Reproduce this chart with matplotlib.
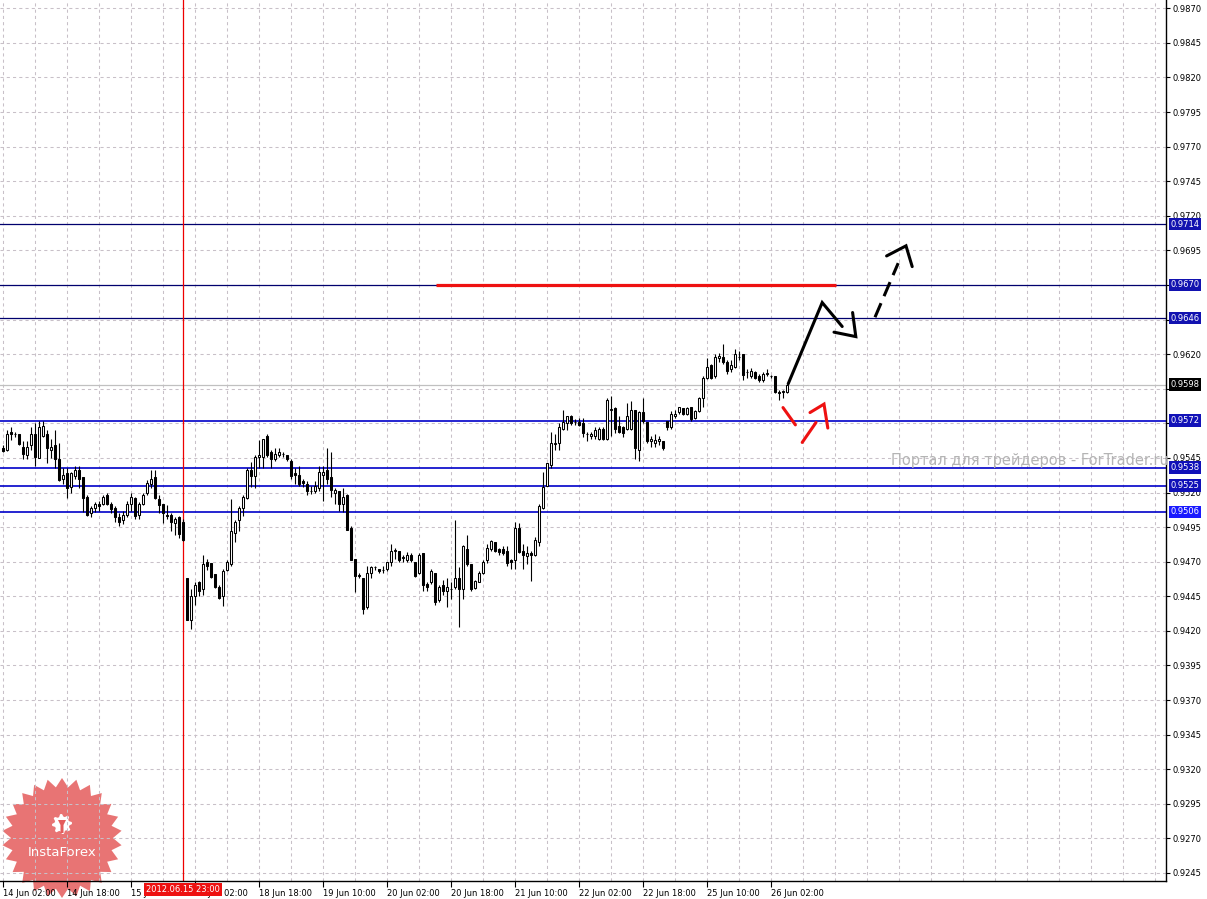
import numpy as np
import matplotlib
matplotlib.use("Agg")
import matplotlib.pyplot as plt
from matplotlib.patches import Polygon

# hourly bars, 14 Jun 02:00 ... 26 Jun 06:00
opens = [0.9552, 0.9551, 0.9564, 0.9562, 0.9562, 0.9553, 0.9547, 0.9554, 0.9562, 0.9545,
         0.9561, 0.9562, 0.9551, 0.9554, 0.9544, 0.9530, 0.9534, 0.9524, 0.9532, 0.9536,
         0.9531, 0.9517, 0.9505, 0.9509, 0.9512, 0.9512, 0.9518, 0.9512, 0.9509, 0.9502,
         0.9500, 0.9504, 0.9512, 0.9516, 0.9504, 0.9512, 0.9520, 0.9526, 0.9531, 0.9515,
         0.9512, 0.9504, 0.9504, 0.9498, 0.9502, 0.9499, 0.9458, 0.9428, 0.9445, 0.9455,
         0.9450, 0.9470, 0.9469, 0.9461, 0.9452, 0.9445, 0.9464, 0.9468, 0.9491, 0.9500,
         0.9509, 0.9516, 0.9536, 0.9532, 0.9546, 0.9546, 0.9561, 0.9549, 0.9544, 0.9547,
         0.9548, 0.9547, 0.9543, 0.9534, 0.9533, 0.9528, 0.9526, 0.9521, 0.9521, 0.9523,
         0.9533, 0.9536, 0.9531, 0.9520, 0.9521, 0.9512, 0.9518, 0.9494, 0.9472, 0.9460,
         0.9458, 0.9437, 0.9462, 0.9466, 0.9465, 0.9464, 0.9465, 0.9470, 0.9478, 0.9478,
         0.9473, 0.9471, 0.9475, 0.9470, 0.9462, 0.9476, 0.9454, 0.9455, 0.9462, 0.9442,
         0.9453, 0.9449, 0.9450, 0.9452, 0.9458, 0.9450, 0.9479, 0.9468, 0.9451, 0.9455,
         0.9462, 0.9471, 0.9479, 0.9484, 0.9479, 0.9479, 0.9478, 0.9471, 0.9471, 0.9494,
         0.9478, 0.9474, 0.9476, 0.9475, 0.9484, 0.9509, 0.9525, 0.9540, 0.9555, 0.9556,
         0.9566, 0.9570, 0.9575, 0.9571, 0.9571, 0.9570, 0.9562, 0.9561, 0.9561, 0.9559,
         0.9566, 0.9559, 0.9580, 0.9581, 0.9568, 0.9567, 0.9566, 0.9566, 0.9580, 0.9551,
         0.9578, 0.9571, 0.9557, 0.9556, 0.9557, 0.9557, 0.9572, 0.9567, 0.9575, 0.9578,
         0.9581, 0.9577, 0.9582, 0.9574, 0.9579, 0.9588, 0.9603, 0.9612, 0.9604, 0.9617,
         0.9618, 0.9614, 0.9609, 0.9611, 0.9618, 0.9620, 0.9607, 0.9604, 0.9607, 0.9604,
         0.9601, 0.9606, 0.9604, 0.9604, 0.9593, 0.9593, 0.9593]
highs = [0.9554, 0.9565, 0.9567, 0.9564, 0.9562, 0.9557, 0.9557, 0.9567, 0.9570, 0.9572,
         0.9572, 0.9565, 0.9559, 0.9565, 0.9556, 0.9538, 0.9538, 0.9535, 0.9539, 0.9539,
         0.9531, 0.9518, 0.9510, 0.9513, 0.9514, 0.9518, 0.9520, 0.9513, 0.9510, 0.9505,
         0.9507, 0.9514, 0.9520, 0.9517, 0.9513, 0.9520, 0.9529, 0.9536, 0.9536, 0.9518,
         0.9512, 0.9511, 0.9505, 0.9502, 0.9503, 0.9501, 0.9458, 0.9450, 0.9455, 0.9456,
         0.9475, 0.9472, 0.9469, 0.9461, 0.9453, 0.9465, 0.9471, 0.9515, 0.9500, 0.9510,
         0.9518, 0.9538, 0.9542, 0.9547, 0.9558, 0.9559, 0.9562, 0.9551, 0.9552, 0.9552,
         0.9549, 0.9547, 0.9544, 0.9538, 0.9539, 0.9530, 0.9528, 0.9525, 0.9528, 0.9539,
         0.9539, 0.9552, 0.9549, 0.9523, 0.9521, 0.9523, 0.9519, 0.9496, 0.9472, 0.9462,
         0.9458, 0.9467, 0.9467, 0.9467, 0.9465, 0.9467, 0.9470, 0.9483, 0.9480, 0.9478,
         0.9475, 0.9477, 0.9476, 0.9470, 0.9476, 0.9476, 0.9455, 0.9465, 0.9462, 0.9453,
         0.9457, 0.9458, 0.9455, 0.9500, 0.9466, 0.9482, 0.9489, 0.9468, 0.9457, 0.9463,
         0.9471, 0.9483, 0.9486, 0.9484, 0.9480, 0.9481, 0.9481, 0.9472, 0.9499, 0.9498,
         0.9483, 0.9481, 0.9478, 0.9488, 0.9512, 0.9535, 0.9541, 0.9564, 0.9562, 0.9570,
         0.9580, 0.9575, 0.9576, 0.9573, 0.9574, 0.9574, 0.9564, 0.9564, 0.9567, 0.9567,
         0.9567, 0.9588, 0.9590, 0.9582, 0.9575, 0.9568, 0.9585, 0.9586, 0.9580, 0.9579,
         0.9588, 0.9571, 0.9561, 0.9562, 0.9561, 0.9557, 0.9572, 0.9579, 0.9580, 0.9582,
         0.9581, 0.9582, 0.9582, 0.9580, 0.9589, 0.9604, 0.9617, 0.9613, 0.9620, 0.9621,
         0.9627, 0.9616, 0.9616, 0.9624, 0.9622, 0.9620, 0.9609, 0.9610, 0.9608, 0.9606,
         0.9607, 0.9609, 0.9605, 0.9604, 0.9594, 0.9594, 0.9598]
lows = [0.9549, 0.9550, 0.9558, 0.9560, 0.9554, 0.9544, 0.9544, 0.9551, 0.9539, 0.9545,
        0.9560, 0.9541, 0.9545, 0.9538, 0.9528, 0.9526, 0.9516, 0.9520, 0.9530, 0.9523,
        0.9506, 0.9503, 0.9502, 0.9506, 0.9507, 0.9511, 0.9511, 0.9505, 0.9499, 0.9496,
        0.9497, 0.9502, 0.9507, 0.9501, 0.9501, 0.9511, 0.9518, 0.9523, 0.9515, 0.9505,
        0.9498, 0.9501, 0.9492, 0.9489, 0.9487, 0.9485, 0.9428, 0.9421, 0.9439, 0.9445,
        0.9446, 0.9464, 0.9458, 0.9451, 0.9443, 0.9438, 0.9463, 0.9467, 0.9484, 0.9492,
        0.9503, 0.9515, 0.9524, 0.9523, 0.9538, 0.9538, 0.9546, 0.9538, 0.9543, 0.9546,
        0.9546, 0.9543, 0.9530, 0.9526, 0.9525, 0.9524, 0.9518, 0.9519, 0.9520, 0.9521,
        0.9514, 0.9526, 0.9517, 0.9512, 0.9507, 0.9506, 0.9493, 0.9471, 0.9448, 0.9458,
        0.9432, 0.9436, 0.9458, 0.9464, 0.9462, 0.9462, 0.9463, 0.9467, 0.9472, 0.9470,
        0.9470, 0.9470, 0.9470, 0.9459, 0.9461, 0.9449, 0.9449, 0.9454, 0.9439, 0.9441,
        0.9446, 0.9437, 0.9443, 0.9450, 0.9423, 0.9443, 0.9467, 0.9449, 0.9450, 0.9455,
        0.9461, 0.9469, 0.9478, 0.9477, 0.9475, 0.9475, 0.9467, 0.9465, 0.9465, 0.9476,
        0.9465, 0.9468, 0.9456, 0.9474, 0.9481, 0.9508, 0.9525, 0.9538, 0.9551, 0.9551,
        0.9565, 0.9565, 0.9569, 0.9569, 0.9568, 0.9560, 0.9557, 0.9559, 0.9559, 0.9558,
        0.9558, 0.9558, 0.9561, 0.9563, 0.9563, 0.9560, 0.9565, 0.9565, 0.9544, 0.9543,
        0.9570, 0.9556, 0.9553, 0.9553, 0.9554, 0.9551, 0.9565, 0.9566, 0.9574, 0.9577,
        0.9576, 0.9576, 0.9572, 0.9573, 0.9578, 0.9582, 0.9602, 0.9602, 0.9603, 0.9614,
        0.9613, 0.9606, 0.9607, 0.9610, 0.9616, 0.9601, 0.9603, 0.9603, 0.9602, 0.9600,
        0.9600, 0.9604, 0.9603, 0.9592, 0.9587, 0.9588, 0.9592]
closes = [0.9550, 0.9562, 0.9562, 0.9562, 0.9555, 0.9548, 0.9553, 0.9562, 0.9546, 0.9567,
          0.9568, 0.9552, 0.9553, 0.9544, 0.9529, 0.9533, 0.9523, 0.9534, 0.9536, 0.9530,
          0.9516, 0.9504, 0.9509, 0.9512, 0.9510, 0.9517, 0.9512, 0.9508, 0.9502, 0.9499,
          0.9504, 0.9512, 0.9517, 0.9503, 0.9512, 0.9518, 0.9527, 0.9530, 0.9516, 0.9511,
          0.9505, 0.9503, 0.9499, 0.9501, 0.9490, 0.9486, 0.9428, 0.9445, 0.9453, 0.9449,
          0.9468, 0.9467, 0.9459, 0.9452, 0.9444, 0.9463, 0.9470, 0.9492, 0.9499, 0.9509,
          0.9517, 0.9536, 0.9532, 0.9546, 0.9547, 0.9559, 0.9547, 0.9544, 0.9548, 0.9549,
          0.9548, 0.9544, 0.9532, 0.9533, 0.9526, 0.9527, 0.9521, 0.9521, 0.9525, 0.9535,
          0.9535, 0.9530, 0.9522, 0.9522, 0.9512, 0.9517, 0.9493, 0.9471, 0.9460, 0.9460,
          0.9436, 0.9462, 0.9466, 0.9466, 0.9463, 0.9464, 0.9470, 0.9478, 0.9478, 0.9471,
          0.9473, 0.9475, 0.9471, 0.9460, 0.9475, 0.9453, 0.9452, 0.9463, 0.9441, 0.9452,
          0.9449, 0.9452, 0.9450, 0.9458, 0.9450, 0.9481, 0.9468, 0.9450, 0.9456, 0.9462,
          0.9470, 0.9480, 0.9485, 0.9478, 0.9477, 0.9476, 0.9469, 0.9470, 0.9494, 0.9477,
          0.9475, 0.9476, 0.9475, 0.9486, 0.9510, 0.9524, 0.9541, 0.9556, 0.9556, 0.9567,
          0.9571, 0.9575, 0.9570, 0.9571, 0.9569, 0.9563, 0.9562, 0.9562, 0.9565, 0.9566,
          0.9559, 0.9587, 0.9580, 0.9566, 0.9564, 0.9563, 0.9575, 0.9580, 0.9552, 0.9578,
          0.9572, 0.9557, 0.9559, 0.9558, 0.9559, 0.9552, 0.9567, 0.9577, 0.9577, 0.9582,
          0.9577, 0.9581, 0.9573, 0.9579, 0.9588, 0.9603, 0.9611, 0.9603, 0.9618, 0.9619,
          0.9614, 0.9608, 0.9612, 0.9620, 0.9618, 0.9605, 0.9607, 0.9608, 0.9603, 0.9601,
          0.9606, 0.9606, 0.9604, 0.9593, 0.9592, 0.9593, 0.9598]

time_labels = ["14 Jun 02:00", "14 Jun 18:00", "15 Jun 10:00", "18 Jun 02:00",
               "18 Jun 18:00", "19 Jun 10:00", "20 Jun 02:00", "20 Jun 18:00",
               "21 Jun 10:00", "22 Jun 02:00", "22 Jun 18:00", "25 Jun 10:00",
               "26 Jun 02:00"]
bars_per_label = 16

upper_levels = [0.9714, 0.9670, 0.9646]
lower_levels = [0.9572, 0.9538, 0.9525, 0.9506]
last_price = 0.9598
target_level = 0.9670
cursor_bar = 45
cursor_label = "2012.06.15 23:00"

# hand drawn forecast strokes (bar index, price)
black_path = [(196.3, 0.95986), (204.8, 0.96573), (209.8, 0.96400)]
black_head = [(207.75, 0.96359), (213.2, 0.96327), (212.4, 0.96501)]
black_dash = [(218.0, 0.96467), (223.8, 0.96858)]
black_dash_head = [(220.9, 0.96910), (225.75, 0.96983), (227.3, 0.96833)]
red_down = [(195.0, 0.95814), (198.1, 0.95689)]
red_up = [(199.8, 0.95562), (203.25, 0.95706)]
red_head = [(201.75, 0.95778), (205.25, 0.95839), (206.2, 0.95666)]
red_segment = (108.25, 208.25)

W, H = 1207, 899
fig = plt.figure(figsize=(W / 100, H / 100), dpi=100, facecolor="white")
ax = fig.add_axes([0, 18 / H, 1166 / W, 881 / H])
ax.patch.set_alpha(0)

o = np.array(opens)
h = np.array(highs)
l = np.array(lows)
c = np.array(closes)
x = np.arange(len(o))
up = c >= o

ax.set_xlim(-0.75, 290.75)
ax.set_ylim(0.92392, 0.98760)

# grid
yticks = np.round(np.arange(0.9245, 0.98701, 0.0025), 4)
# tags fully cover these tick labels
covered = {0.9670, 0.9645, 0.9595, 0.9570}
ax.set_yticks(yticks)
ax.set_yticklabels(["" if v in covered else f"{v:.4f}" for v in yticks])
for v in yticks:
    ax.axhline(v, color="#c8c0c8", lw=0.75, ls=(0, (3, 3)), zorder=0.5)
for b in range(0, 291, 8):
    ax.axvline(b, color="#c8c0c8", lw=0.75, ls=(0, (3, 3)), zorder=0.5)

# levels
for v in upper_levels:
    ax.axhline(v, color="#00006e", lw=0.9, zorder=1)
for v in lower_levels:
    ax.axhline(v, color="#0000c8", lw=1.2, zorder=1)
ax.axhline(last_price, color="#c0c0c0", lw=0.9, zorder=1)
ax.plot(red_segment, [target_level, target_level], color="#ee1111", lw=2.3,
        solid_capstyle="butt", zorder=2)
ax.axvline(cursor_bar, color="#ee0000", lw=0.9, zorder=1.5)

# candles
ax.vlines(x, l, h, color="black", lw=0.8, zorder=3)
body_h = np.maximum(np.abs(c - o), 0.000015)
ax.bar(x, body_h, bottom=np.minimum(o, c), width=0.7,
       color=np.where(up, "white", "black"), edgecolor="black", linewidth=0.75, zorder=4)

# forecast strokes
def stroke(pts, color, ls="-"):
    xs, ys = zip(*pts)
    ax.plot(xs, ys, color=color, lw=2.2, ls=ls, solid_capstyle="round",
            solid_joinstyle="miter", zorder=5)

stroke(black_path, "black")
stroke(black_head, "black")
stroke(black_dash, "black", ls=(0, (5, 2.5)))
stroke(black_dash_head, "black")
stroke(red_down, "#ee1111")
stroke(red_up, "#ee1111")
stroke(red_head, "#ee1111")

# axes look
for s in ["left", "top"]:
    ax.spines[s].set_visible(False)
for s in ["right", "bottom"]:
    ax.spines[s].set_color("black")
    ax.spines[s].set_linewidth(1.0)
ax.yaxis.tick_right()
ax.tick_params(axis="y", direction="out", length=3, pad=2, labelsize=6, colors="black")
ax.set_xticks(np.arange(len(time_labels)) * bars_per_label)
ax.set_xticklabels(time_labels, ha="left")
ax.tick_params(axis="x", direction="out", length=4, pad=1.5, labelsize=6, colors="black")

# price tags on the right
def tag(v, bg):
    ax.annotate(f"{v:.4f}", xy=(1, v), xycoords=("axes fraction", "data"),
                xytext=(3, 0), textcoords="offset points", ha="left", va="center",
                fontsize=6, color="white", zorder=10, annotation_clip=False,
                bbox=dict(boxstyle="square,pad=0.2", fc=bg, ec="none"))

for v in upper_levels:
    tag(v, "#1212b0")
tag(0.9572, "#1212b8")
tag(0.9538, "#1010b8")
tag(0.9525, "#1010b8")
tag(0.9506, "#1a1aff")
tag(last_price, "black")

ax.annotate(cursor_label, xy=(cursor_bar, 0), xycoords=("data", "axes fraction"),
            xytext=(0, -6), textcoords="offset points", ha="center", va="center",
            fontsize=6, color="white", zorder=10, annotation_clip=False,
            bbox=dict(boxstyle="square,pad=0.2", fc="#ee1111", ec="none"))

ax.text(222, 0.9543, "Портал для трейдеров - ForTrader.ru", fontsize=10.5,
        color="#b4b4b4", ha="left", va="center", clip_on=False, zorder=6)

# logo
def fpx(px, py):
    return px / W, 1 - py / H

cx, cy = 62, 838
n = 26
ang = np.linspace(0, 2 * np.pi, 2 * n, endpoint=False) + np.pi / 2
rad = np.where(np.arange(2 * n) % 2 == 0, 60, 51)
star = [fpx(cx + r * np.cos(a), cy - r * np.sin(a)) for r, a in zip(rad, ang)]
fig.patches.append(Polygon(star, closed=True, transform=fig.transFigure,
                           fc="#e45c5c", ec="none", alpha=0.85, zorder=-1))
gx, gy = 62, 824
m = 8
gang = np.linspace(0, 2 * np.pi, 4 * m, endpoint=False)
grad = np.array([10, 10, 7.5, 7.5] * m)
gear = [fpx(gx + r * np.cos(a), gy - r * np.sin(a)) for r, a in zip(grad, gang)]
fig.patches.append(Polygon(gear, closed=True, transform=fig.transFigure,
                           fc="white", ec="none", zorder=-0.5))
fig.patches.append(Polygon([fpx(gx - 4, gy - 4), fpx(gx + 4, gy - 4), fpx(gx + 1.5, gy + 1),
                            fpx(gx + 1.5, gy + 9), fpx(gx - 1.5, gy + 9), fpx(gx - 1.5, gy + 1)],
                           closed=True, transform=fig.transFigure, fc="#e45c5c", ec="none",
                           zorder=-0.4))
fig.text(*fpx(cx, 852), "InstaForex", color="white", fontsize=9.5, ha="center",
         va="center", zorder=5)

fig.savefig("out.png", dpi=100, facecolor="white")
